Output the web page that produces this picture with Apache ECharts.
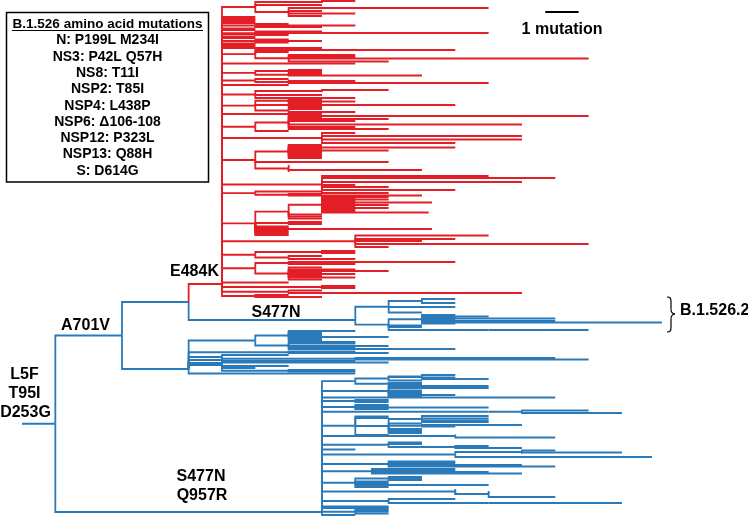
<!DOCTYPE html>
<html><head><meta charset="utf-8">
<script src="https://cdn.jsdelivr.net/npm/echarts@6/dist/echarts.min.js"></script>
<style>html,body{margin:0;padding:0;background:#fff}#c{width:748px;height:516px}</style>
</head><body><div id="c"></div>
<script>
// ================= DATA =================
// Tree notation: internal node = [depth, child, child, ...]; leaf = [depth, row]
// depth = mutations from the root; row = vertical position of the tip.

// Backbone depths (mutations) and rows of the polytomy nodes
const backboneDepth = { root: 0, l5f: 1, a701v: 3, upper: 5, e484k: 6, b15262: 10, lower: 5, q957r: 9 };
const polytomyRow = { e484k: 284, b15262: 320, lower: 369, q957r: 512 };

// E484K clade (red)
const redClade = [
 [7,[9,[10,1],[9,3]],[9,5],[8,[14,8],[9,11],[10,13.5],[9,16]]],
 [7,17],[7,18.5],[7,20],[7,21.5],[7,23],[7,[8,24],[10,25.5],[9,27]],[7,28.5],[7,30],[7,[9,31.5],[14,33],[8,35]],[7,34],[7,36.5],[7,38],[7,[8,39.5],[9,41],[8,42.5]],[7,43.5],[7,44.5],[7,45.5],[7,46.5],
 [9,48],
 [7,[13,50],[8,52],[8,[10,55],[17,58.5],[10,57],[11,61.5]]],
 [10,63.5],
 [7,[8,[9,70],[9,72]],[8,[9,74],[12,75.5]]],
 [7,[8,79],[8,[10,81],[14,83]]],
 [8,85],
 [7,[9,[11,90],[9,92]],[9,95],[10,98]],
 [7,[8,[9,100],[10,101.5]],[8,[9,103],[13,105],[9,107]],[8,[9,109],[10,112]]],
 [9,114],
 [7,[8,[9,117],[17,116],[11,119],[10,121],[15,124.5],[10,127],[11,129]],[8,131]],
 [9,[10,133],[15,136],[15,139.5],[13,143]],
 [7,[8,[9,145],[9,146.5],[13,147.5],[9,149],[11,150.5],[9,152],[9,154],[9,156],[9,158]],[11,162],[8,[8,165],[12,170],[8,172]]],
 [9,[14,176],[16,178],[15,182],[10,185],[11,187],[13,190],[11,193]],
 [7,[9,191.5],[8,[9,194],[12,195.5]]],
 [7,[8,[9,[11,197],[10,198.5],[11,199.5],[10,201],[12.3,202.5],[10,204],[11,205],[10,206.5],[11,208],[10,209.5],[10,211],[12.2,212.5]],[9,214.5],[9,216.5],[9,218.5]],[8,[9,222],[9,224]],[8,226.5],[8,228],[12.3,229],[8,230.5],[8,232],[8,233.5],[8,235]],
 [10,[14,235.5],[13,239],[12,241],[17,244],[11,247]],
 [7,[9,[10,251],[10,253]],[8,[9,256],[10,259]]],
 [7,[8,[13,262],[10,264]],[8,[9,267.5],[10,269.5],[11,271],[9,272.5],[10,274],[9,276],[10,277.5],[9,279.5]]],
 [8,282.5],
 [9,[10,286],[10,288]],
 [8,[9,290.5],[15,293]],
 [7,[8,295],[9,297]]
];

// S477N clade (B.1.526.2)
const b15262Clade = [
 [11,[12,[13,299],[13,303]],[13,307],[12,312.5]],
 [11,[12,[13,315],[14,316.5],[13,318],[16,318.5],[13,319.5],[16,321],[19.2,322.5],[13,323.5]],[12,325.5],[12,327],[14,[17,330]]]
];

// lower A701V clade
const lowerClade = [
 [7,[8,[10,331],[9,332.5],[9,334],[9,335.5],[11,337],[9,338.5],[9,340]],[8,[10,342],[10,343.5],[11,346],[10,347.5],[13,349]]],
 [8,[10,351.5],[11,353]],
 [6,357],
 [6,[8,355],[10,[16,358],[17,359.5]],[10,361],[11,362.5],[8,366],[7,368],[8,[10,370],[10,371.5]]],
 [6,360],[6,363.5],[6,365],
 [10,373.5]
];

// S477N Q957R clade
const q957rClade = [
 [10,[11,[12,[13,375],[13,377.5],[14,379]],[12,376.5],[12,380.5]],[11,[12,383],[12,384.5]]],
 [11,[14,386],[14,388],[12,390.5],[12,392],[12,393.5],[13,395],[12,396]],
 [16,397.5],
 [10,[11,400],[11,402]],
 [10,[11,405],[11,406.5],[14,407.5],[11,409]],
 [14,[15,[17,410.5],[18,413]]],
 [10,[11,416.5],[11,418],[11,[12,[14,416],[14,418.5],[14,420.5],[14,422]],[12,423.5],[12,[13,426.5],[15,425]],[12,429],[12,431],[12,433]],[11,435]],
 [13,[13,434.5],[16,437.5]],
 [11,[12,442.5],[12,444],[13,[14,446],[15,448]]],
 [10,449.5],
 [13,[15,[16,450.5],[18,452.5],[15,453.5]],[18.9,457]],
 [11,[13,461.5],[13,463],[15,465],[16,466.5]],
 [10.5,[13,469],[13,470.5],[14,472],[15,473.5]],
 [10,[11,[12,477],[12,478.5],[12,480]],[11,481.5],[11,483],[14,485],[11,487]],
 [13,[13,489],[14,[14,491],[14,492.5],[16,497]],[14,494]],
 [10,[11,[13,499],[14,[18,503]]],[11,501]],
 [11,506.5],[11,508],
 [10,[11,510],[11,511.5],[11,513.5]],
 [10,515]
];

const boxTitle = 'B.1.526 amino acid mutations';
const boxLines = ['N: P199L M234I','NS3: P42L Q57H','NS8: T11I','NSP2: T85I','NSP4: L438P','NSP6: \u0394106-108','NSP12: P323L','NSP13: Q88H','S: D614G'];
const scaleBar = { startDepth: 15.7, length: 1, row: 12, text: '1 mutation' };

// ================= LAYOUT =================
const PX_PER_MUT = 33.33, LEFT = 22, W = 748, H = 516;
const RED = '#e41e26', BLUE = '#2a7ab9';
const FONT = '"Liberation Sans", Arial, Helvetica, sans-serif';

const tree = {d: backboneDepth.root, c: [
  {d: backboneDepth.l5f, c: [
    {d: backboneDepth.a701v, c: [
      {d: backboneDepth.upper, c: [
        {d: backboneDepth.e484k, y: polytomyRow.e484k, red: true, c: redClade},
        {d: backboneDepth.b15262, y: polytomyRow.b15262, c: b15262Clade}
      ]},
      {d: backboneDepth.lower, y: polytomyRow.lower, c: lowerClade}
    ]},
    {d: backboneDepth.q957r, y: polytomyRow.q957r, c: q957rClade}
  ]}
]};

function norm(n){
  if (Array.isArray(n)) {
    if (typeof n[1] === 'number') return {d: n[0], y: n[1], leaf: true};
    return {d: n[0], c: n.slice(1).map(norm)};
  }
  return {d: n.d, y: n.y, red: n.red, c: n.c.map(norm)};
}
function setY(n){
  if (n.leaf) return n.y;
  const ys = n.c.map(setY);
  if (n.y == null) n.y = (Math.min(...ys) + Math.max(...ys)) / 2;
  return n.y;
}
const blueSegs = [], redSegs = [];
function walk(n, parent, red){
  const isRed = red || !!n.red;
  if (parent) (isRed ? redSegs : blueSegs).push({coords: [[parent.d, parent.y], [parent.d, n.y], [n.d, n.y]]});
  if (!n.leaf) n.c.forEach(ch => walk(ch, n, isRed));
}
const root = norm(tree);
setY(root);
walk(root, null, false);

const chart = echarts.init(document.getElementById('c'), null, {renderer: 'canvas'});

const graphic = [
  {type: 'rect', shape: {x: 6.5, y: 12.5, width: 202, height: 169.5}, style: {fill: 'none', stroke: '#000', lineWidth: 1.5}},
  {type: 'text', x: 107.5, y: 24, style: {text: boxTitle, font: 'bold 13.5px ' + FONT, fill: '#000', textAlign: 'center', textVerticalAlign: 'middle'}},
  {type: 'line', shape: {x1: 12, y1: 30.5, x2: 203, y2: 30.5}, style: {stroke: '#000', lineWidth: 1}}
];
boxLines.forEach((t, i) => graphic.push({type: 'text', x: 107.5, y: 40.5 + i * 16.3,
  style: {text: t, font: 'bold 14px ' + FONT, fill: '#000', textAlign: 'center', textVerticalAlign: 'middle'}}));
const branchLabels = [
  ['E484K', 194.5, 272], ['A701V', 85.5, 326], ['S477N', 276, 312.5],
  ['L5F', 24.5, 375], ['T95I', 24.5, 394], ['D253G', 25.5, 413],
  ['S477N', 201, 477], ['Q957R', 202, 496]
];
branchLabels.forEach(([t, x, y]) => graphic.push({type: 'text', x, y,
  style: {text: t, font: 'bold 16px ' + FONT, fill: '#000', textAlign: 'center', textVerticalAlign: 'middle'}}));
graphic.push({type: 'text', x: 680, y: 311, style: {text: 'B.1.526.2', font: 'bold 16px ' + FONT, fill: '#000', textAlign: 'left', textVerticalAlign: 'middle'}});
graphic.push({type: 'text', x: 562, y: 30, style: {text: scaleBar.text, font: 'bold 16px ' + FONT, fill: '#000', textAlign: 'center', textVerticalAlign: 'middle'}});
// curly brace next to B.1.526.2
const braceStyle = {fill: 'none', stroke: '#000', lineWidth: 1.2};
graphic.push(
  {type: 'bezierCurve', shape: {x1: 667, y1: 297, x2: 671, y2: 302, cpx1: 670.5, cpy1: 297, cpx2: 671, cpy2: 298.5}, style: braceStyle},
  {type: 'line', shape: {x1: 671, y1: 302, x2: 671, y2: 309.5}, style: braceStyle},
  {type: 'bezierCurve', shape: {x1: 671, y1: 309.5, x2: 675, y2: 314, cpx1: 671, cpy1: 312, cpx2: 672, cpy2: 313.5}, style: braceStyle},
  {type: 'bezierCurve', shape: {x1: 675, y1: 314, x2: 671, y2: 318.5, cpx1: 672, cpy1: 314.5, cpx2: 671, cpy2: 316}, style: braceStyle},
  {type: 'line', shape: {x1: 671, y1: 318.5, x2: 671, y2: 327}, style: braceStyle},
  {type: 'bezierCurve', shape: {x1: 671, y1: 327, x2: 667, y2: 332, cpx1: 671, cpy1: 330.5, cpx2: 670.5, cpy2: 332}, style: braceStyle}
);

chart.setOption({
  animation: false,
  grid: {left: LEFT, right: 0, top: 0, bottom: 0},
  xAxis: {type: 'value', min: 0, max: (W - LEFT) / PX_PER_MUT, show: false},
  yAxis: {type: 'value', min: 0, max: H, inverse: true, show: false},
  series: [
    {type: 'lines', coordinateSystem: 'cartesian2d', polyline: true, silent: true,
     lineStyle: {color: BLUE, width: 1.8, opacity: 1}, data: blueSegs},
    {type: 'lines', coordinateSystem: 'cartesian2d', polyline: true, silent: true,
     lineStyle: {color: RED, width: 1.8, opacity: 1}, data: redSegs},
    {type: 'lines', coordinateSystem: 'cartesian2d', polyline: false, silent: true,
     lineStyle: {color: '#000', width: 2, opacity: 1},
     data: [{coords: [[scaleBar.startDepth, scaleBar.row], [scaleBar.startDepth + scaleBar.length, scaleBar.row]]}]}
  ],
  graphic
});
</script></body></html>
